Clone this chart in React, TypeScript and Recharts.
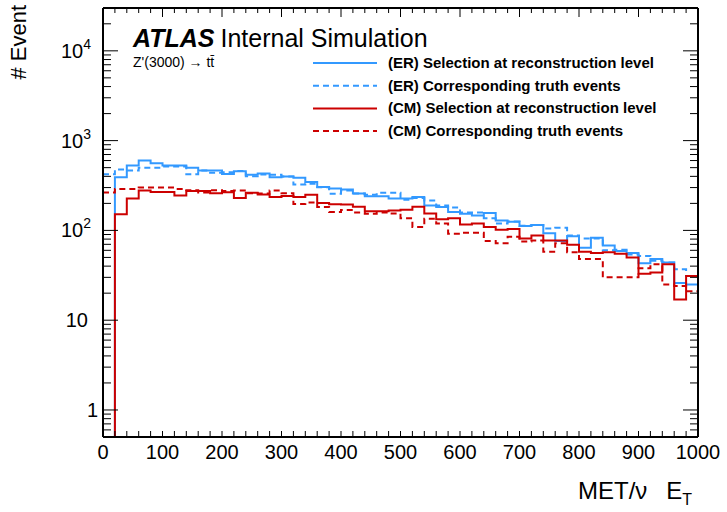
import React from 'react';
import { LineChart, Line, XAxis, YAxis } from 'recharts';

// bin lower edges (GeV), 20 GeV bins, plus the upper edge of the last bin
const binEdges = [
  0, 20, 40, 60, 80, 100, 120, 140, 160, 180, 200, 220, 240, 260, 280, 300, 320,
  340, 360, 380, 400, 420, 440, 460, 480, 500, 520, 540, 560, 580, 600, 620, 640,
  660, 680, 700, 720, 740, 760, 780, 800, 820, 840, 860, 880, 900, 920, 940, 960,
  980, 1000,
];

const erReco = [
  0, 390, 530, 600, 560, 530, 530, 500, 466, 466, 425, 455, 416, 430, 390, 398, 385,
  346, 305, 292, 285, 257, 240, 240, 226, 226, 235, 190, 182, 160, 153, 147, 156,
  129, 125, 112, 115, 93, 76, 86, 64, 83, 68, 59, 56, 43, 48, 44, 26, 25,
];
const erTruth = [
  421, 478, 466, 500, 500, 515, 515, 421, 466, 440, 445, 460, 402, 420, 416, 398, 324,
  330, 303, 256, 279, 257, 250, 262, 262, 220, 230, 216, 190, 180, 158, 158, 137,
  119, 126, 113, 115, 105, 107, 88, 81, 81, 60, 61, 54, 52, 46, 44, 37, 31,
];
const cmReco = [
  0, 151, 227, 279, 268, 268, 245, 275, 275, 260, 266, 229, 262, 251, 235, 241, 235,
  250, 202, 195, 194, 184, 163, 163, 167, 170, 184, 154, 133, 137, 116, 119, 109,
  102, 104, 81, 88, 77, 77, 69, 58, 56, 57, 55, 50, 33, 34, 42, 17, 31,
];
const cmTruth = [
  264, 290, 290, 300, 300, 300, 290, 280, 265, 280, 275, 279, 260, 258, 279, 260, 197,
  205, 182, 160, 169, 158, 153, 158, 154, 137, 109, 135, 119, 92, 94, 94, 76,
  72, 85, 75, 77, 58, 72, 57, 48, 48, 30, 30, 30, 38, 42, 25, 24, 21,
];

const legendItems = [
  { label: '(ER) Selection at reconstruction level', color: '#3399ff', dash: undefined },
  { label: '(ER) Corresponding truth events', color: '#3399ff', dash: '6 4' },
  { label: '(CM) Selection at reconstruction level', color: '#cc0000', dash: undefined },
  { label: '(CM) Corresponding truth events', color: '#cc0000', dash: '6 4' },
];

const xTicks = binEdges;
const yTicks: number[] = [];
[0.1, 1, 10, 100, 1000, 10000].forEach((d) => {
  for (let k = 1; k < 10; k++) {
    const v = d * k;
    if (v >= 0.5 && v <= 30000) yTicks.push(Math.round(v * 10) / 10);
  }
});

const FLOOR = 0.05; // empty bins sit below the axis
const val = (arr: number[], i: number) => {
  const v = arr[Math.min(i, arr.length - 1)];
  return v > 0 ? v : FLOOR;
};
const data = binEdges.map((x, i) => ({
  x,
  erReco: val(erReco, i),
  erTruth: val(erTruth, i),
  cmReco: val(cmReco, i),
  cmTruth: val(cmTruth, i),
}));

const FONT = '"Liberation Sans", Arial, Helvetica, sans-serif';
const FRAME = { stroke: '#000', strokeWidth: 2 };

const XTick = (props: any) => {
  const { x, y, payload, side } = props;
  const v = payload.value;
  const major = v % 100 === 0;
  const len = side === 'bottom' ? 6 : major ? 9 : 5;
  const dir = side === 'bottom' ? -1 : 1;
  return (
    <g>
      <line x1={x} x2={x} y1={y} y2={y + dir * len} stroke="#000" strokeWidth={1} />
      {side === 'bottom' && major && (
        <text x={x} y={y + 22} textAnchor="middle" fontSize={20} fontFamily={FONT} fill="#000">
          {v}
        </text>
      )}
    </g>
  );
};

const YTick = (props: any) => {
  const { x, y, payload, side } = props;
  const v = payload.value;
  const e = Math.log10(v);
  const major = Math.abs(e - Math.round(e)) < 1e-6;
  const len = major ? 15 : 8;
  const dir = side === 'left' ? 1 : -1;
  let label: any = null;
  if (side === 'left' && major) {
    const n = Math.round(e);
    if (n === 0) {
      label = (
        <text x={x - 5} y={y + 7} textAnchor="end" fontSize={20} fontFamily={FONT}>1</text>
      );
    } else if (n === 1) {
      label = (
        <text x={x - 15} y={y + 7} textAnchor="end" fontSize={20} fontFamily={FONT}>10</text>
      );
    } else {
      label = (
        <text x={x - 12} y={y + 7} textAnchor="end" fontSize={20} fontFamily={FONT}>
          10<tspan dy={-9} fontSize={14}>{n}</tspan>
        </text>
      );
    }
  }
  return (
    <g>
      <line x1={x} x2={x + dir * len} y1={y} y2={y} stroke="#000" strokeWidth={1} />
      {label}
    </g>
  );
};

export default function App() {
  return (
    <div style={{ position: 'absolute', left: 0, top: 0, width: 727, height: 512, background: '#fff' }}>
      <LineChart
        width={727}
        height={512}
        data={data}
        margin={{ top: 7, right: 28, left: 0, bottom: 45 }}
      >
        <XAxis
          dataKey="x"
          type="number"
          domain={[0, 1000]}
          ticks={xTicks}
          interval={0}
          tickSize={0}
          tickMargin={0}
          height={30}
          axisLine={FRAME}
          tick={<XTick side="bottom" />}
        />
        <XAxis
          xAxisId="top"
          orientation="top"
          dataKey="x"
          type="number"
          domain={[0, 1000]}
          ticks={xTicks}
          interval={0}
          tickSize={0}
          tickMargin={0}
          height={1}
          axisLine={FRAME}
          tick={<XTick side="top" />}
        />
        <YAxis
          scale="log"
          type="number"
          domain={[0.5, 30000]}
          allowDataOverflow
          ticks={yTicks}
          interval={0}
          width={103}
          tickSize={0}
          tickMargin={0}
          axisLine={FRAME}
          tick={<YTick side="left" />}
        />
        <YAxis
          yAxisId="right"
          orientation="right"
          scale="log"
          type="number"
          domain={[0.5, 30000]}
          allowDataOverflow
          ticks={yTicks}
          interval={0}
          width={1}
          tickSize={0}
          tickMargin={0}
          axisLine={FRAME}
          tick={<YTick side="right" />}
        />
        <Line type="stepAfter" dataKey="erTruth" stroke="#3399ff" strokeWidth={2} strokeDasharray="6 4" dot={false} isAnimationActive={false} />
        <Line type="stepAfter" dataKey="erReco" stroke="#3399ff" strokeWidth={2} dot={false} isAnimationActive={false} />
        <Line type="stepAfter" dataKey="cmTruth" stroke="#cc0000" strokeWidth={2} strokeDasharray="6 4" dot={false} isAnimationActive={false} />
        <Line type="stepAfter" dataKey="cmReco" stroke="#cc0000" strokeWidth={2} dot={false} isAnimationActive={false} />
      </LineChart>
      <svg
        width={727}
        height={512}
        style={{ position: 'absolute', left: 0, top: 0, pointerEvents: 'none' }}
        fontFamily={FONT}
      >
        <text x={133} y={47} fontSize={25}>
          <tspan fontWeight="bold" fontStyle="italic">ATLAS</tspan>
          <tspan dx={6}>Internal Simulation</tspan>
        </text>
        <text x={133} y={67} fontSize={14}>
          {"Z'(3000) \u2192 tt\u0304"}
        </text>
        {legendItems.map((it, i) => {
          const y = 63 + i * 22.7;
          return (
            <g key={it.label}>
              <line x1={313} x2={377} y1={y} y2={y} stroke={it.color} strokeWidth={2} strokeDasharray={it.dash} />
              <text x={388} y={y + 5} fontSize={15} fontWeight="bold">{it.label}</text>
            </g>
          );
        })}
        <text x={578} y={499} fontSize={24}>
          {'MET/\u03bd'}
          <tspan dx={19}>E</tspan>
          <tspan dy={6} fontSize={16}>T</tspan>
        </text>
        <text transform="translate(26,5) rotate(-90)" textAnchor="end" fontSize={22}>
          # Event
        </text>
      </svg>
    </div>
  );
}
